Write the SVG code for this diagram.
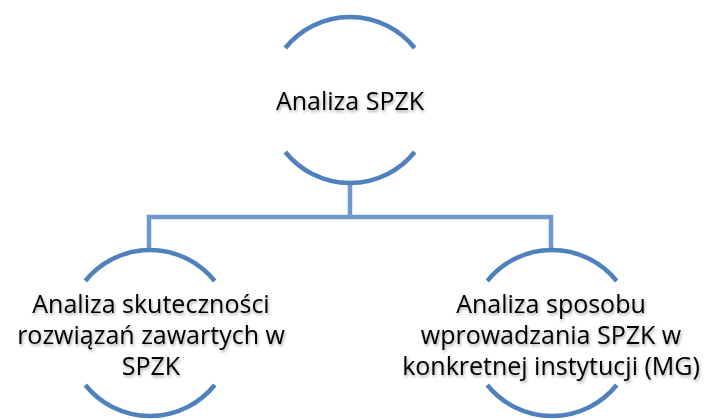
<svg xmlns="http://www.w3.org/2000/svg" width="710" height="419" viewBox="0 0 710 419">
<defs>
<filter id="sh" x="-10%" y="-30%" width="120%" height="160%">
<feDropShadow dx="1" dy="2" stdDeviation="1.6" flood-color="#000" flood-opacity="0.35"/>
</filter>
</defs>
<style>
.arc{fill:none;stroke:#4F81BD;stroke-width:4.5;stroke-linecap:butt}
.conn{fill:none;stroke:#7097CC;stroke-width:4.5}
.t{font-family:"Open Sans","Noto Sans","Liberation Sans",sans-serif;font-size:25px;fill:#000;text-anchor:middle;filter:url(#sh)}
</style>
<rect width="710" height="419" fill="#fff"/>
<g id="connectors">
<path class="conn" d="M350,183 V217"/>
<path class="conn" d="M149,250 V217 H551 V250"/>
</g>
<g id="node-top">
<path class="arc" d="M285.3,48 A83,83 0 0 1 414.7,48"/>
<path class="arc" d="M285.3,152 A83,83 0 0 0 414.7,152"/>
<text class="t" x="350" y="110">Analiza SPZK</text>
</g>
<g id="node-left">
<path class="arc" d="M85.3,281 A83,83 0 0 1 214.7,281"/>
<path class="arc" d="M85.3,385 A83,83 0 0 0 214.7,385"/>
<text class="t" x="151" y="313">Analiza skuteczności</text>
<text class="t" x="151" y="344">rozwiązań zawartych w</text>
<text class="t" x="151" y="375">SPZK</text>
</g>
<g id="node-right">
<path class="arc" d="M487.3,281 A83,83 0 0 1 616.7,281"/>
<path class="arc" d="M487.3,385 A83,83 0 0 0 616.7,385"/>
<text class="t" x="551" y="313">Analiza sposobu</text>
<text class="t" x="551" y="344">wprowadzania SPZK w</text>
<text class="t" x="551" y="375">konkretnej instytucji (MG)</text>
</g>
</svg>
